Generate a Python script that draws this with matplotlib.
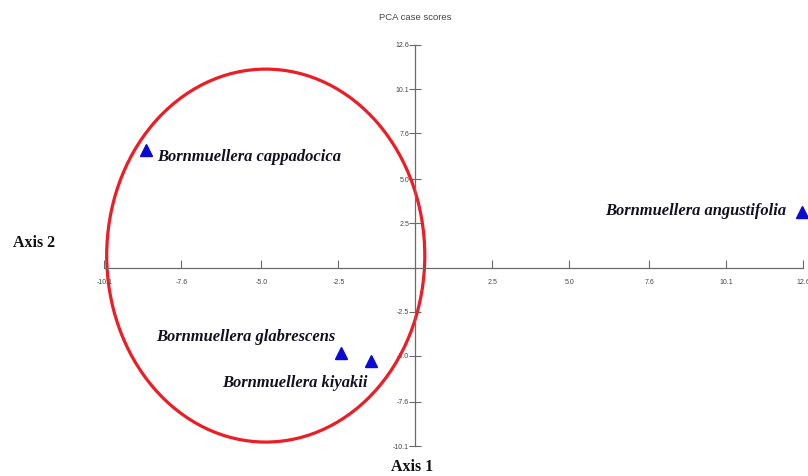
import matplotlib
matplotlib.use("Agg")
import matplotlib.pyplot as plt
from matplotlib.patches import Ellipse

# PCA case scores for the Bornmuellera taxa
species = ["Bornmuellera cappadocica", "Bornmuellera angustifolia",
           "Bornmuellera glabrescens", "Bornmuellera kiyakii"]
axis1 = [-8.75, 12.55, -2.40, -1.45]
axis2 = [6.66, 3.15, -4.83, -5.29]

xticks = [-10.1, -7.6, -5.0, -2.5, 2.5, 5.0, 7.6, 10.1, 12.6]
yticks = [-10.1, -7.6, -5.0, -2.5, 2.5, 5.0, 7.6, 10.1, 12.6]
tick_labels = ["-10.1", "-7.6", "-5.0", "-2.5", "2.5", "5.0", "7.6", "10.1", "12.6"]

# label offsets in pixels from each point, and alignment
offsets = [(11, -7), (-16, 1), (-6, 16), (-3, -22)]
aligns = ["left", "right", "right", "right"]

# cluster outline
circle_center = (-4.86, 0.68)
circle_w, circle_h = 10.33, 21.1

fig = plt.figure(figsize=(8.08, 4.76), dpi=100)
ax = fig.add_axes([0, 0, 1, 1])
ax.set_xlim(-13.49, 12.75)
ax.set_ylim(-11.79, 15.14)

axis_col = "#6a6a6a"
for side in ["top", "right"]:
    ax.spines[side].set_visible(False)
ax.spines["left"].set_position(("data", 0))
ax.spines["bottom"].set_position(("data", 0))
ax.spines["left"].set_bounds(-10.1, 12.6)
ax.spines["bottom"].set_bounds(-10.1, 12.6)
for side in ["left", "bottom"]:
    ax.spines[side].set_color(axis_col)
    ax.spines[side].set_linewidth(0.9)

ax.set_xticks(xticks)
ax.set_xticklabels(tick_labels)
ax.set_yticks(yticks)
ax.set_yticklabels(tick_labels)
ax.tick_params(axis="x", direction="in", length=6, width=0.8, color=axis_col,
               labelsize=5, labelcolor="#444444", pad=8)
ax.tick_params(axis="y", direction="inout", length=9, width=0.8, color=axis_col,
               labelsize=5, labelcolor="#444444", pad=0)
for lab in ax.get_xticklabels() + ax.get_yticklabels():
    lab.set_family("Liberation Sans")

ax.add_patch(Ellipse(circle_center, circle_w, circle_h, fill=False,
                     edgecolor="#ee1c24", linewidth=2.3, zorder=2))

ax.plot(axis1, axis2, linestyle="none", marker="^", markersize=9,
        color="#0a0ad0", zorder=3, clip_on=False)

for name, x, y, off, ha in zip(species, axis1, axis2, offsets, aligns):
    ax.annotate(name, (x, y), xytext=off, textcoords="offset pixels",
                ha=ha, va="center", fontsize=11.9, fontweight="bold",
                fontstyle="italic", family="Liberation Serif", color="#111122")

fig.text(0.514, 1 - 18 / 476, "PCA case scores", ha="center", va="center",
         fontsize=6.8, color="#444444", family="Liberation Sans")
fig.text(34 / 808, 1 - 243 / 476, "Axis 2", ha="center", va="center",
         fontsize=11.5, fontweight="bold", family="Liberation Serif", color="#111111")
fig.text(412 / 808, 1 - 467 / 476, "Axis 1", ha="center", va="center",
         fontsize=11.5, fontweight="bold", family="Liberation Serif", color="#111111")

fig.savefig("out.png", dpi=100)
